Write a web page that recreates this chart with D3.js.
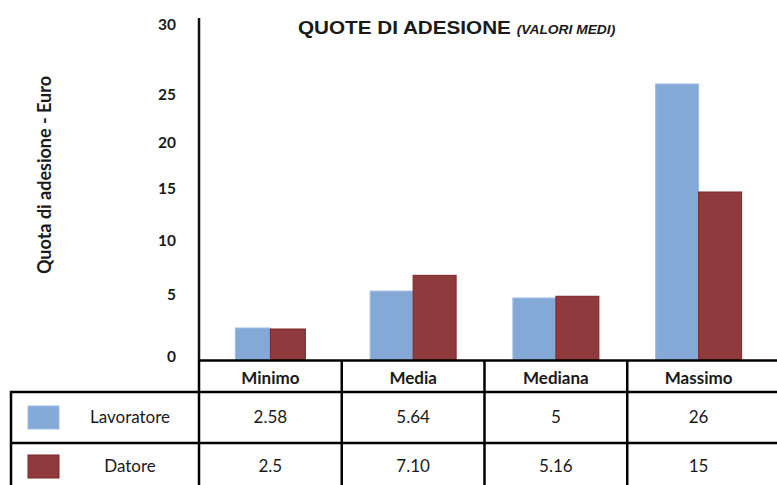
<!DOCTYPE html>
<html>
<head>
<meta charset="utf-8">
<script src="https://cdn.jsdelivr.net/npm/d3@7"></script>
<style>
    body { margin: 0; background: #fff; }
    svg { display: block; }
    .lbl { font-family: Lato, 'Open Sans', sans-serif; fill: #1a1a1a; }
</style>
</head>
<body>
<svg id="vis" width="777" height="485"></svg>
<script>
'use strict';

// data
var categories = ['Minimo', 'Media', 'Mediana', 'Massimo'];
var series = ['Lavoratore', 'Datore'];
var lavoratore = [2.58, 5.64, 5, 26];
var datore = [2.5, 7.10, 5.16, 15];
var valueLabels = [['2.58', '5.64', '5', '26'], ['2.5', '7.10', '5.16', '15']];
var yTicks = [0, 5, 10, 15, 20, 25, 30];

var colors = ['#85a9d6', '#8f3a3c'];
var strokes = ['#9cbde3', '#7c2628'];

var W = 777, H = 485;
var svg = d3.select('#vis');

var axisX = 199, baseY = 360;
var rowTop = 392, rowMid = 443;

// the original axis is not evenly spaced, so the scale is piecewise
var y = d3.scaleLinear()
    .domain(yTicks)
    .range([baseY, 298, 244, 192, 146, 98, 28]);

var x = d3.scaleBand()
    .domain(categories)
    .range([axisX, 770])
    .padding(0);

// the first group is drawn a bit narrower in the original
var barWidths = [35, 43, 43, 43];

var values = [lavoratore, datore];

// bars
var barG = svg.append('g').attr('class', 'bars');
series.forEach(function (s, si) {
    barG.selectAll('rect.s' + si)
        .data(values[si])
        .enter().append('rect')
        .attr('class', 's' + si)
        .attr('x', function (d, i) {
            var bw = barWidths[i];
            return x(categories[i]) + x.bandwidth() / 2 - bw + si * bw;
        })
        .attr('y', function (d) { return y(d); })
        .attr('width', function (d, i) { return barWidths[i]; })
        .attr('height', function (d) { return y(0) - y(d); })
        .attr('fill', colors[si])
        .attr('stroke', strokes[si])
        .attr('stroke-width', 1);
});

// y axis
var yAxis = svg.append('g')
    .attr('transform', 'translate(' + axisX + ',0)')
    .call(d3.axisLeft(y).tickValues(yTicks).tickSize(0).tickPadding(23));
yAxis.select('.domain').remove();
yAxis.selectAll('text')
    .attr('class', 'lbl')
    .attr('dy', '0.1em')
    .style('font-size', '15.5px')
    .style('font-weight', 'bold');

svg.append('line')
    .attr('x1', axisX).attr('x2', axisX)
    .attr('y1', 18).attr('y2', baseY)
    .attr('stroke', '#111').attr('stroke-width', 2.5);

svg.append('text')
    .attr('class', 'lbl')
    .attr('transform', 'translate(51,175) rotate(-90)')
    .attr('text-anchor', 'middle')
    .style('font-size', '18px')
    .style('font-weight', 'bold')
    .text('Quota di adesione - Euro');

// title (the original type is stretched sideways)
var title = svg.append('text')
    .attr('transform', 'translate(298,34) scale(1.15,1)')
    .style('font-family', "'Liberation Sans', Arial, sans-serif")
    .style('font-weight', 'bold')
    .attr('fill', '#1a1a1a');
title.append('tspan').style('font-size', '18px').text('QUOTE DI ADESIONE ');
title.append('tspan').style('font-size', '12px').style('font-style', 'italic').text('(VALORI MEDI)');

// data table
var tbl = svg.append('g').attr('class', 'table');
var lineAttr = function (sel) {
    return sel.attr('stroke', '#000').attr('stroke-width', 2.5);
};
lineAttr(tbl.append('line').attr('x1', axisX - 1).attr('x2', W).attr('y1', baseY + 0.5).attr('y2', baseY + 0.5));
lineAttr(tbl.append('line').attr('x1', 10).attr('x2', W).attr('y1', rowTop).attr('y2', rowTop));
lineAttr(tbl.append('line').attr('x1', 10).attr('x2', W).attr('y1', rowMid).attr('y2', rowMid));
lineAttr(tbl.append('line').attr('x1', 11).attr('x2', 11).attr('y1', rowTop - 1).attr('y2', H));
categories.forEach(function (c) {
    lineAttr(tbl.append('line').attr('x1', x(c)).attr('x2', x(c)).attr('y1', baseY).attr('y2', H));
});

tbl.selectAll('text.head')
    .data(categories)
    .enter().append('text')
    .attr('class', 'lbl head')
    .attr('x', function (d) { return x(d) + x.bandwidth() / 2; })
    .attr('y', 384)
    .attr('text-anchor', 'middle')
    .style('font-size', '17px')
    .style('font-weight', 'bold')
    .text(function (d) { return d; });

var rowY = [417, 466];
series.forEach(function (s, si) {
    tbl.append('rect')
        .attr('x', 28).attr('y', rowY[si] - 11)
        .attr('width', 31).attr('height', 23)
        .attr('fill', colors[si])
        .attr('stroke', strokes[si]);
    tbl.append('text')
        .attr('class', 'lbl')
        .attr('x', 130).attr('y', rowY[si] + 6)
        .attr('text-anchor', 'middle')
        .style('font-size', '17px')
        .text(s);
    tbl.selectAll('text.v' + si)
        .data(valueLabels[si])
        .enter().append('text')
        .attr('class', 'lbl v' + si)
        .attr('x', function (d, i) { return x(categories[i]) + x.bandwidth() / 2; })
        .attr('y', rowY[si] + 6)
        .attr('text-anchor', 'middle')
        .style('font-size', '17px')
        .text(function (d) { return d; });
});
</script>
</body>
</html>
